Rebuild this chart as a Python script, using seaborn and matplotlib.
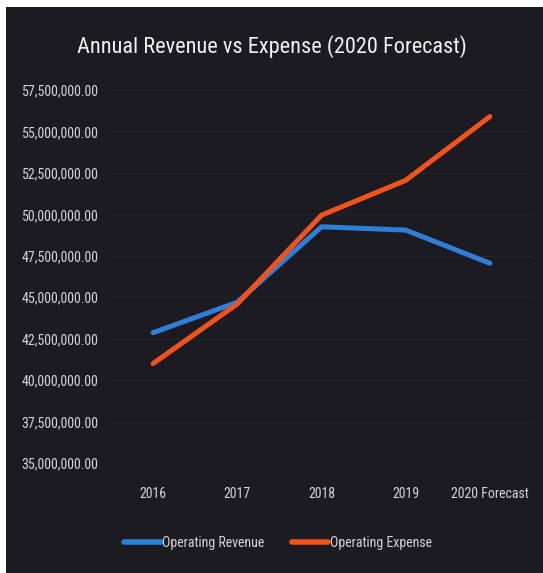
import matplotlib
matplotlib.use("Agg")
import matplotlib.pyplot as plt
import matplotlib.font_manager as fm
from matplotlib.patches import Rectangle
from matplotlib.ticker import FuncFormatter
import pandas as pd
import seaborn as sns

years = ["2016", "2017", "2018", "2019", "2020 Forecast"]
operating_revenue = [42_860_000, 44_700_000, 49_250_000, 49_050_000, 47_050_000]
operating_expense = [41_000_000, 44_600_000, 49_950_000, 52_050_000, 55_900_000]
y_ticks = [35_000_000, 37_500_000, 40_000_000, 42_500_000, 45_000_000,
           47_500_000, 50_000_000, 52_500_000, 55_000_000, 57_500_000]

df = pd.DataFrame({
    "Year": years * 2,
    "Amount": operating_revenue + operating_expense,
    "Series": ["Operating Revenue"] * len(years) + ["Operating Expense"] * len(years),
})

sns.set_theme(style="dark")
names = {f.name for f in fm.fontManager.ttflist}
family = "DejaVu Sans"
for cand in ["Liberation Sans Narrow", "Roboto Condensed", "Open Sans Condensed",
             "DejaVu Sans Condensed", "Liberation Sans"]:
    if cand in names:
        family = cand
        break
plt.rcParams["font.family"] = [family, "DejaVu Sans"]

W, H = 543, 573
fig = plt.figure(figsize=(W / 100, H / 100), dpi=100, facecolor="white")
bg = "#1c1b21"
fig.patches.append(Rectangle((6 / W, 0), 1, 1 - 7 / H, transform=fig.transFigure,
                             facecolor=bg, edgecolor="none", zorder=-10))

ax = fig.add_axes([111 / W, 1 - 463 / H, (532 - 111) / W, (463 - 90) / H])
ax.set_facecolor(bg)
palette = {"Operating Revenue": "#2f7ed8", "Operating Expense": "#f0531c"}
sns.lineplot(data=df, x="Year", y="Amount", hue="Series", palette=palette,
             linewidth=3.6, ax=ax, sort=False, legend=False)

ax.set_xlim(-0.5, len(years) - 0.5)
ax.set_ylim(y_ticks[0], y_ticks[-1])
ax.set_yticks(y_ticks)
ax.yaxis.set_major_formatter(FuncFormatter(lambda v, p: f"{v:,.2f}"))
ax.grid(axis="y", color="#26252b", linewidth=0.8)
ax.grid(axis="x", visible=False)
for s in ax.spines.values():
    s.set_visible(False)
ax.set_xlabel("")
ax.set_ylabel("")
ax.tick_params(axis="y", colors="#d4d4d8", labelsize=10, pad=9, length=0)
ax.tick_params(axis="x", colors="#d4d4d8", labelsize=10, pad=17, length=0)

fig.text(0.5, 1 - 47 / H, "Annual Revenue vs Expense (2020 Forecast)",
         ha="center", va="center", color="#f2f2f2", fontsize=16)

handles = [plt.Line2D([], [], color=palette[k], linewidth=4) for k in palette]
fig.legend(handles, list(palette), loc="center", bbox_to_anchor=(278 / W, 1 - 543 / H),
           ncol=2, frameon=False, fontsize=10, labelcolor="#d4d4d8",
           handlelength=2.6, handletextpad=0.1, columnspacing=2.0)

fig.savefig("out.png", dpi=100, facecolor="white")
